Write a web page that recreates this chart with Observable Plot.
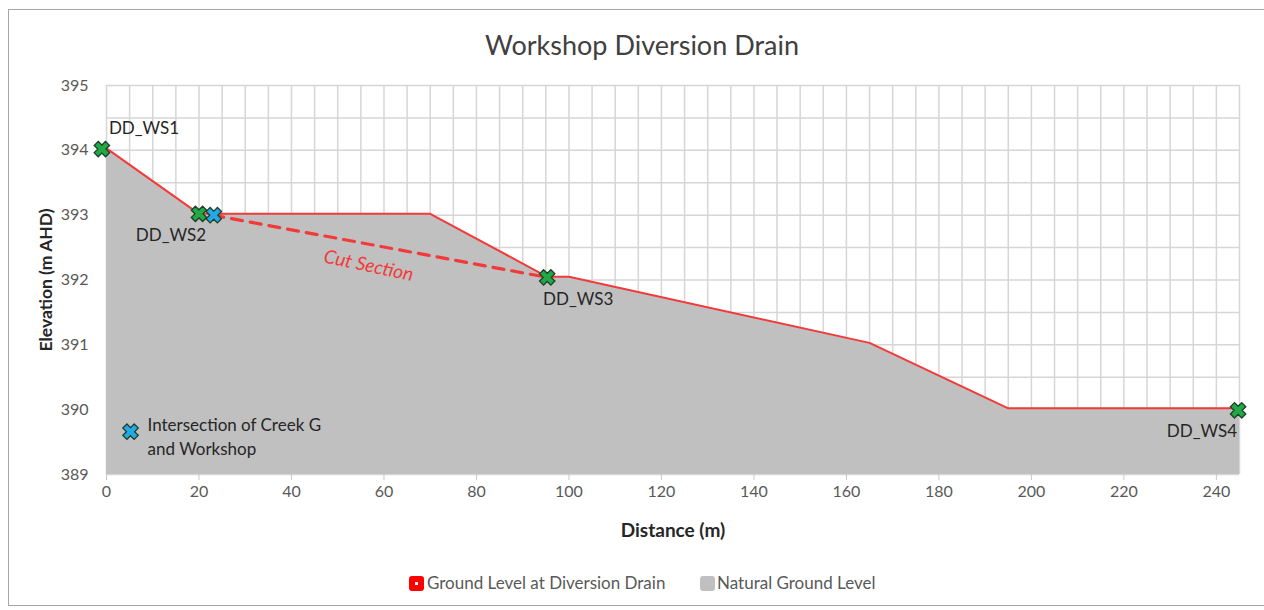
<!DOCTYPE html>
<html>
<head>
<meta charset="utf-8">
<script src="https://cdn.jsdelivr.net/npm/d3@7"></script>
<script src="https://cdn.jsdelivr.net/npm/@observablehq/plot@0.6"></script>
<style>
  body { margin: 0; background: #fff; font-family: Lato, "Open Sans", sans-serif; }
  #wrap { position: relative; width: 1264px; height: 610px; overflow: hidden; }
  #frame { position: absolute; left: 8px; top: 9px; width: 1262px; height: 597px; border: 1px solid #a6a6a6; box-sizing: border-box; }
  #title { position: absolute; top: 28px; left: 0; width: 1284px; text-align: center; font-size: 27px; color: #404040; line-height: 34px; }
  #chart { position: absolute; left: 0; top: 0; }
  .lg { position: absolute; top: 572px; font-size: 17px; color: #595959; line-height: 22px; }
  .sw { position: absolute; top: 576px; width: 15px; height: 15px; border-radius: 3px; }
</style>
</head>
<body>
<div id="wrap">
  <div id="frame"></div>
  <div id="chart"></div>
  <div id="title"></div>
  <div id="legend"></div>
</div>
<script>
// ---- data ----
const distance = [0, 20, 23, 70, 95.3, 100, 165, 195, 245];
const drainLevel = [394.03, 393.02, 393.02, 393.02, 392.05, 392.05, 391.03, 390.02, 390.02];
const naturalLevel = [394.03, 393.02, 393.02, 393.02, 392.05, 392.05, 391.03, 390.02, 390.02];
const cutDistance = [23, 95.3];
const cutLevel = [393.0, 392.04];
const stationNames = ["DD_WS1", "DD_WS2", "DD_WS3", "DD_WS4"];
const stationDistance = [-1, 20, 95.3, 244.7];
const stationLevel = [394.02, 393.02, 392.04, 389.99];
const creekDistance = [23.2];
const creekLevel = [393.0];
const creekLegendDistance = [5.2];
const creekLegendLevel = [389.66];
const xTicks = [0, 20, 40, 60, 80, 100, 120, 140, 160, 180, 200, 220, 240];
const yTicks = [389, 390, 391, 392, 393, 394, 395];
const titleText = "Workshop Diversion Drain";
const xLabel = "Distance (m)";
const yLabel = "Elevation (m AHD)";
const cutLabel = "Cut Section";
const creekLabel = "Intersection of Creek G\nand Workshop";
const legendNames = ["Ground Level at Diversion Drain", "Natural Ground Level"];

// ---- tables ----
const ground = distance.map((d, i) => ({distance: d, drain: drainLevel[i], natural: naturalLevel[i]}));
const cut = cutDistance.map((d, i) => ({distance: d, level: cutLevel[i]}));
const stations = stationNames.map((n, i) => ({name: n, distance: stationDistance[i], level: stationLevel[i]}));
const creek = creekDistance.map((d, i) => ({distance: d, level: creekLevel[i]}));
const creekLegend = creekLegendDistance.map((d, i) => ({distance: d, level: creekLegendLevel[i]}));
const cutText = [{distance: (cutDistance[0] + cutDistance[1]) / 2 - 2.5, level: (cutLevel[0] + cutLevel[1]) / 2 - 0.3}];

// chunky X marker
const thickX = {
  draw(ctx, size) {
    const r = Math.sqrt(size / Math.PI);
    const L = r, w = r * 0.36;
    const pts = [[w,-L],[w,-w],[L,-w],[L,w],[w,w],[w,L],[-w,L],[-w,w],[-L,w],[-L,-w],[-w,-w],[-w,-L]];
    const c = Math.SQRT1_2;
    pts.forEach(([x, y], i) => {
      const X = (x - y) * c, Y = (x + y) * c;
      if (i) ctx.lineTo(X, Y); else ctx.moveTo(X, Y);
    });
    ctx.closePath();
  }
};

const red = "#f23a3a";
const green = "#22a845";
const blue = "#22a9e6";
const outline = "#1e3f2a";
const gridColor = "#d6d6d6";
const labelColor = "#262626";

const st = (name) => stations.filter(s => s.name === name);

const chart = Plot.plot({
  width: 1264,
  height: 560,
  marginLeft: 106,
  marginRight: 25,
  marginTop: 85,
  marginBottom: 86,
  x: {domain: [0, 245]},
  y: {domain: [389, 395]},
  style: {fontFamily: "Lato, 'Open Sans', sans-serif", background: "transparent", overflow: "visible"},
  marks: [
    Plot.gridX(d3.range(0, 246, 5), {stroke: gridColor, strokeOpacity: 1, strokeWidth: 1.5}),
    Plot.gridY(d3.range(389, 395.01, 0.5), {stroke: gridColor, strokeOpacity: 1, strokeWidth: 1.5}),
    Plot.areaY(ground, {x: "distance", y1: 389, y2: "natural", fill: "#c0c0c0"}),
    Plot.line(ground, {x: "distance", y: "drain", stroke: red, strokeWidth: 2}),
    Plot.line(cut, {x: "distance", y: "level", stroke: red, strokeWidth: 3.2, strokeDasharray: "11,8"}),
    Plot.axisY(yTicks, {tickSize: 0, tickPadding: 18, fontSize: 16, fill: "#595959", label: null, tickFormat: d3.format("d")}),
    Plot.axisX(xTicks, {tickSize: 6, stroke: "#c8c8c8", tickPadding: 5, fontSize: 16, fill: "#595959", label: null, tickFormat: d3.format("d")}),
    Plot.text([yLabel], {frameAnchor: "left", dx: -60, rotate: -90, textAnchor: "middle", lineAnchor: "middle", fontSize: 17.5, fontWeight: "bold", fill: labelColor}),
    Plot.text([xLabel], {frameAnchor: "bottom", dy: 56, textAnchor: "middle", lineAnchor: "middle", fontSize: 19, fontWeight: "bold", fill: labelColor}),
    Plot.text(cutText, {x: "distance", y: "level", text: () => cutLabel, rotate: 12, fontSize: 19, fontStyle: "italic", fill: red}),
    Plot.dot(stations, {x: "distance", y: "level", symbol: thickX, r: 8, fill: green, stroke: outline, strokeWidth: 1.3}),
    Plot.dot(creek, {x: "distance", y: "level", symbol: thickX, r: 8, fill: blue, stroke: outline, strokeWidth: 1.3}),
    Plot.dot(creekLegend, {x: "distance", y: "level", symbol: thickX, r: 8, fill: blue, stroke: outline, strokeWidth: 1.3}),
    Plot.text(creekLegend, {x: "distance", y: "level", text: () => creekLabel, textAnchor: "start", lineAnchor: "middle", dx: 17, dy: 4, lineHeight: 1.4, fontSize: 17, fill: labelColor}),
    Plot.text(st("DD_WS1"), {x: "distance", y: "level", text: "name", textAnchor: "start", dx: 7, dy: -20, fontSize: 17, fill: labelColor}),
    Plot.text(st("DD_WS2"), {x: "distance", y: "level", text: "name", textAnchor: "middle", dx: -28, dy: 22, fontSize: 17, fill: labelColor}),
    Plot.text(st("DD_WS3"), {x: "distance", y: "level", text: "name", textAnchor: "middle", dx: 31, dy: 22, fontSize: 17, fill: labelColor}),
    Plot.text(st("DD_WS4"), {x: "distance", y: "level", text: "name", textAnchor: "end", dx: -1, dy: 21, fontSize: 17, fill: labelColor})
  ]
});
document.getElementById("chart").appendChild(chart);
document.getElementById("title").textContent = titleText;

const lg = document.getElementById("legend");
lg.innerHTML =
  `<div class="sw" style="left:409px;background:#ff0000;"><div style="position:absolute;left:6px;top:6px;width:3px;height:3px;background:#fff;"></div></div>` +
  `<div class="lg" style="left:427px;">${legendNames[0]}</div>` +
  `<div class="sw" style="left:700px;background:#c0c0c0;"></div>` +
  `<div class="lg" style="left:717px;">${legendNames[1]}</div>`;
</script>
</body>
</html>
